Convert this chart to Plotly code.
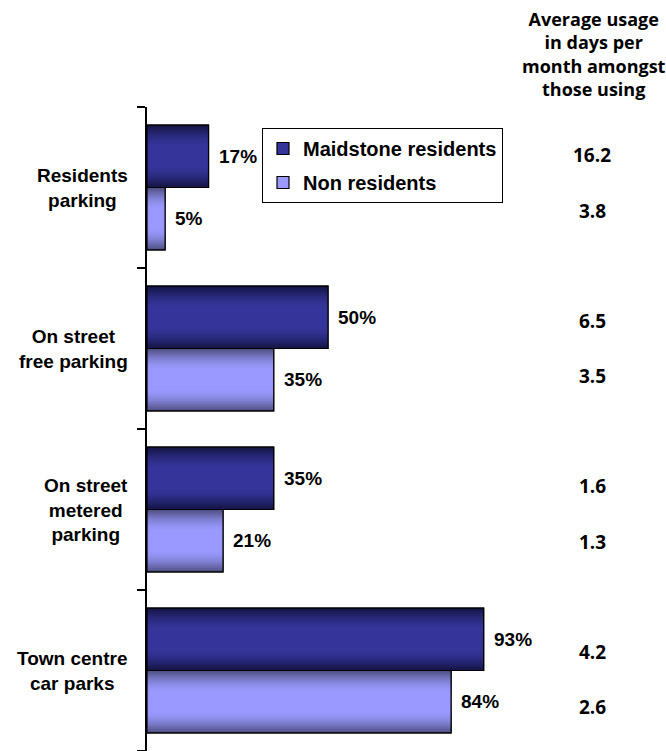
import math
import plotly.graph_objects as go

# Parking usage by type: share of respondents using each kind of parking
categories = ["Residents<br>parking", "On street<br>free parking",
              "On street<br>metered<br>parking", "Town centre<br>car parks"]
residents_pct = [17, 50, 35, 93]
non_residents_pct = [5, 35, 21, 84]

# Average days of use per month amongst those using
residents_days = ["16.2", "6.5", "1.6", "4.2"]
non_residents_days = ["3.8", "3.5", "1.3", "2.6"]
days_header = "Average usage<br>in days per<br>month amongst<br>those using"

series_names = ["Maidstone residents", "Non residents"]

W = 0.388        # width of one bar in category units
N_LAYERS = 16    # bands used to shade each bar from edge to centre

MARGIN_L, MARGIN_R, MARGIN_T, MARGIN_B = 147, 157, 107, 0
FIG_W, FIG_H = 666, 751
PLOT_W = FIG_W - MARGIN_L - MARGIN_R
PLOT_H = FIG_H - MARGIN_T - MARGIN_B


def px_to_paper_x(px):
    return (px - MARGIN_L) / PLOT_W


def px_to_paper_y(py):
    return 1 - (py - MARGIN_T) / PLOT_H


def lerp(c1, c2, t):
    return "rgb(%d,%d,%d)" % tuple(round(a + (b - a) * t) for a, b in zip(c1, c2))


styles = [
    dict(edge=(22, 22, 72), centre=(52, 52, 154), off=-W),
    dict(edge=(82, 82, 135), centre=(153, 153, 255), off=0.0),
]

ypos = list(range(len(categories)))
fig = go.Figure()

for name, values, st in zip(series_names, [residents_pct, non_residents_pct], styles):
    # legend entry carrier (fully covered by the shaded bands)
    fig.add_trace(go.Bar(
        x=values, y=ypos, orientation="h", name="<b>%s</b>" % name, legendgroup=name,
        width=W, offset=st["off"],
        marker=dict(color=lerp(st["centre"], st["centre"], 0), line=dict(color="black", width=1.2)),
        hoverinfo="skip",
    ))
    # shaded bands: dark at the top/bottom edges, light through the middle
    for k in range(N_LAYERS):
        frac = k / N_LAYERS
        t = min(1.0, (k / (N_LAYERS - 1)) / 0.75)
        t = math.sin(t * math.pi / 2)
        w = W * (1 - frac)
        fig.add_trace(go.Bar(
            x=values, y=ypos, orientation="h", showlegend=False, legendgroup=name,
            width=w, offset=st["off"] + W * frac / 2,
            marker=dict(color=lerp(st["edge"], st["centre"], t), line=dict(width=0)),
            hoverinfo="skip",
        ))
    # black outline on top
    fig.add_trace(go.Bar(
        x=values, y=ypos, orientation="h", showlegend=False, legendgroup=name,
        width=W, offset=st["off"],
        marker=dict(color="rgba(0,0,0,0)", line=dict(color="black", width=1.2)),
        hovertemplate=name + ": %{x}%<extra></extra>",
    ))

annotations = []
label_font = dict(family="Arial", size=19, color="black")

# percentage labels to the right of each bar
for values, st in zip([residents_pct, non_residents_pct], styles):
    for i, v in enumerate(values):
        annotations.append(dict(
            x=v, y=i + st["off"] + W / 2, xref="x", yref="y",
            text="<b>%d%%</b>" % v, showarrow=False,
            xanchor="left", yanchor="middle", xshift=8, font=label_font,
        ))

# category labels
for i, cat in enumerate(categories):
    annotations.append(dict(
        x=0, y=i, xref="paper", yref="y", text="<b>%s</b>" % cat,
        showarrow=False, xanchor="right", yanchor="middle", align="center",
        xshift=-17, font=label_font,
    ))

# days-per-month column
header_font = dict(family="Open Sans", size=18, color="black")
days_font = dict(family="Open Sans", size=19, color="black")
annotations.append(dict(
    x=px_to_paper_x(594), y=px_to_paper_y(54), xref="paper", yref="paper",
    text="<b>%s</b>" % days_header, showarrow=False,
    xanchor="center", yanchor="middle", align="center", font=header_font,
))
res_rows = [155, 321, 486, 652]
non_rows = [211, 376, 542, 707]
for txt, py in zip(residents_days + non_residents_days, res_rows + non_rows):
    annotations.append(dict(
        x=px_to_paper_x(592), y=px_to_paper_y(py), xref="paper", yref="paper",
        text="<b>%s</b>" % txt, showarrow=False,
        xanchor="center", yanchor="middle", font=days_font,
    ))

fig.update_layout(
    width=FIG_W, height=FIG_H,
    margin=dict(l=MARGIN_L, r=MARGIN_R, t=MARGIN_T, b=MARGIN_B, pad=0),
    paper_bgcolor="white", plot_bgcolor="white",
    barmode="overlay",
    showlegend=True,
    legend=dict(
        x=px_to_paper_x(262), y=px_to_paper_y(128), xanchor="left", yanchor="top",
        bgcolor="white", bordercolor="black", borderwidth=1,
        font=dict(family="Arial", size=20, color="black"),
        tracegroupgap=5, itemwidth=30,
    ),
    xaxis=dict(range=[0, 100], visible=False, fixedrange=True),
    yaxis=dict(
        range=[len(categories) - 0.5, -0.5], showgrid=False, zeroline=False,
        showline=True, linecolor="black", linewidth=1.5,
        tickmode="array", tickvals=[i - 0.5 for i in range(len(categories) + 1)],
        ticks="outside", ticklen=8, tickcolor="black", tickwidth=1.5,
        showticklabels=False, fixedrange=True,
    ),
    annotations=annotations,
)

fig.write_html("out.html")
